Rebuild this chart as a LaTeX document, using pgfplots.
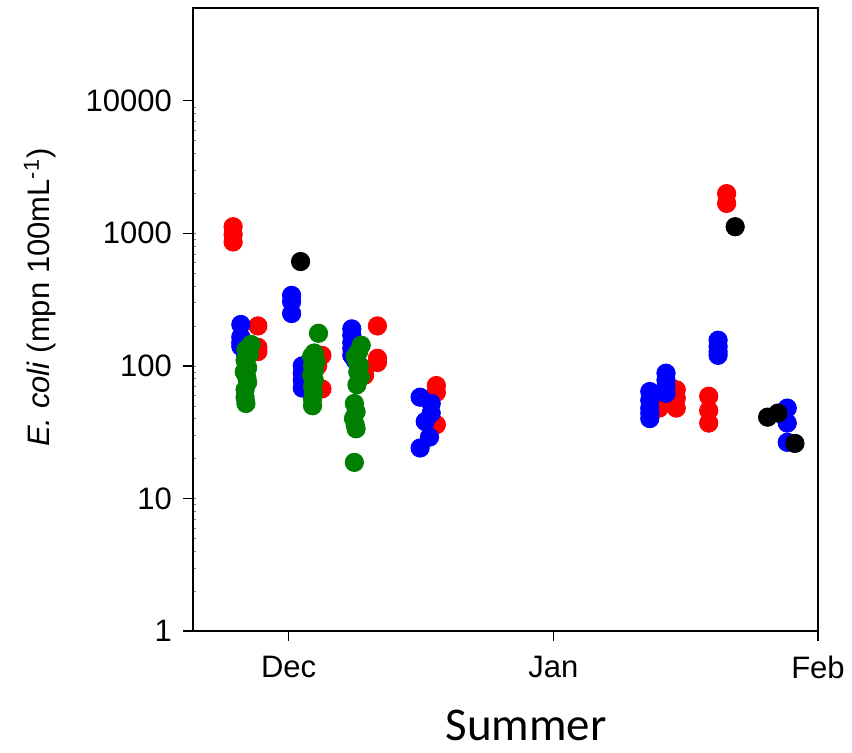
\documentclass[border=0pt]{standalone}
\usepackage{fontspec}
\setmainfont{Liberation Sans}
\newfontfamily\calibri{Carlito}
\usepackage{pgfplots}
\pgfplotsset{compat=1.18}

\definecolor{ptred}{RGB}{255,0,0}
\definecolor{ptblue}{RGB}{0,0,255}
\definecolor{ptgreen}{RGB}{0,128,0}

\begin{document}
\begin{tikzpicture}
\begin{axis}[
  at={(0,0)}, anchor=south west,
  scale only axis,
  width=312.5pt, height=311.5pt,
  ymode=log,
  xmin=-11.2, xmax=62,
  ymin=1, ymax=50000,
  xtick={0,31,62},
  xticklabels={Dec,Jan,Feb},
  ytick={1,10,100,1000,10000},
  yticklabels={1,10,100,1000,10000},
  xminorticks=false,
  xtick pos=bottom, ytick pos=left,
  tick align=outside,
  major tick length=5pt,
  minor tick length=1.6pt,
  minor tick style={xshift=1.6pt, gray},
  axis line style={line width=0.8pt},
  major tick style={line width=0.7pt, black},
  /pgf/number format/assume math mode=true,
  ticklabel style={font=\fontsize{15.5}{17}\selectfont},
  xticklabel style={yshift=-4pt},
  yticklabel style={xshift=-2pt},
  ylabel={\fontsize{15.5}{17}\selectfont\textit{E. coli} (mpn 100mL\textsuperscript{-1})},
  ylabel style={at={(axis description cs:-0.245,0.535)}, anchor=center, rotate=0},
  xlabel={\calibri\fontsize{23.5}{26}\selectfont Summer},
  xlabel style={at={(axis description cs:0.533,-0.151)}, anchor=center},
  clip=false,
]
% red series
\addplot[only marks, mark=*, mark size=4.6pt, color=ptred] coordinates {
  (-6.5,1120) (-6.5,980) (-6.5,860)
  (-3.6,200) (-3.6,138) (-3.6,128)
  (3.9,120) (3.9,67) (3.4,100)
  (10.4,200) (10.4,114) (10.4,106) (8.9,85) (8.9,95)
  (17.3,71) (17.3,63) (17.3,36)
  (45.4,66) (45.4,57) (45.4,48) (43.4,55) (43.4,48)
  (49.2,59) (49.2,46) (49.2,37)
  (51.3,1990) (51.3,1680)
};
% blue series
\addplot[only marks, mark=*, mark size=4.6pt, color=ptblue] coordinates {
  (-5.6,205) (-5.6,165) (-5.6,150) (-5.6,140) (-5.0,130) (-5.0,120)
  (0.35,340) (0.35,305) (0.35,248)
  (1.6,100) (1.6,88) (1.6,78) (1.6,68)
  (7.4,190) (7.4,170) (7.4,150) (7.4,135) (7.4,120) (7.8,110)
  (15.4,58) (16.7,52) (16.7,44) (16.0,38) (16.5,29) (15.4,24)
  (42.3,64) (42.3,55) (42.3,48) (42.3,44) (42.3,40)
  (44.2,88) (44.2,78) (44.2,70) (44.2,62)
  (50.3,156) (50.3,140) (50.3,128) (50.3,120)
  (58.4,48) (58.4,37) (58.4,26.5)
};
% green series
\addplot[only marks, mark=*, mark size=4.6pt, color=ptgreen] coordinates {
  (-4.4,145) (-5.0,132) (-4.6,122) (-5.1,110) (-4.8,97) (-5.2,90)
  (-4.9,82) (-4.8,75) (-5.1,66) (-5.1,58) (-5.0,52)
  (3.5,176) (3.0,125) (2.7,118) (3.2,108) (2.8,100) (3.0,92)
  (2.7,85) (3.0,78) (2.8,70) (2.9,62) (2.8,56) (2.8,50)
  (8.5,143) (8.2,128) (7.8,118) (8.0,108) (8.3,100) (8.1,90)
  (8.4,82) (8.0,72)
  (7.7,52) (7.9,45) (7.6,40) (7.8,36) (7.9,33.5) (7.7,18.7)
};
% black series
\addplot[only marks, mark=*, mark size=4.6pt, color=black] coordinates {
  (1.4,612) (52.3,1120) (56.1,41) (57.3,44) (59.3,26)
};
\end{axis}
\pgfresetboundingbox
\path[use as bounding box] (-96.5pt,-61pt) rectangle (329.5pt,315.5pt);
\end{tikzpicture}
\end{document}
